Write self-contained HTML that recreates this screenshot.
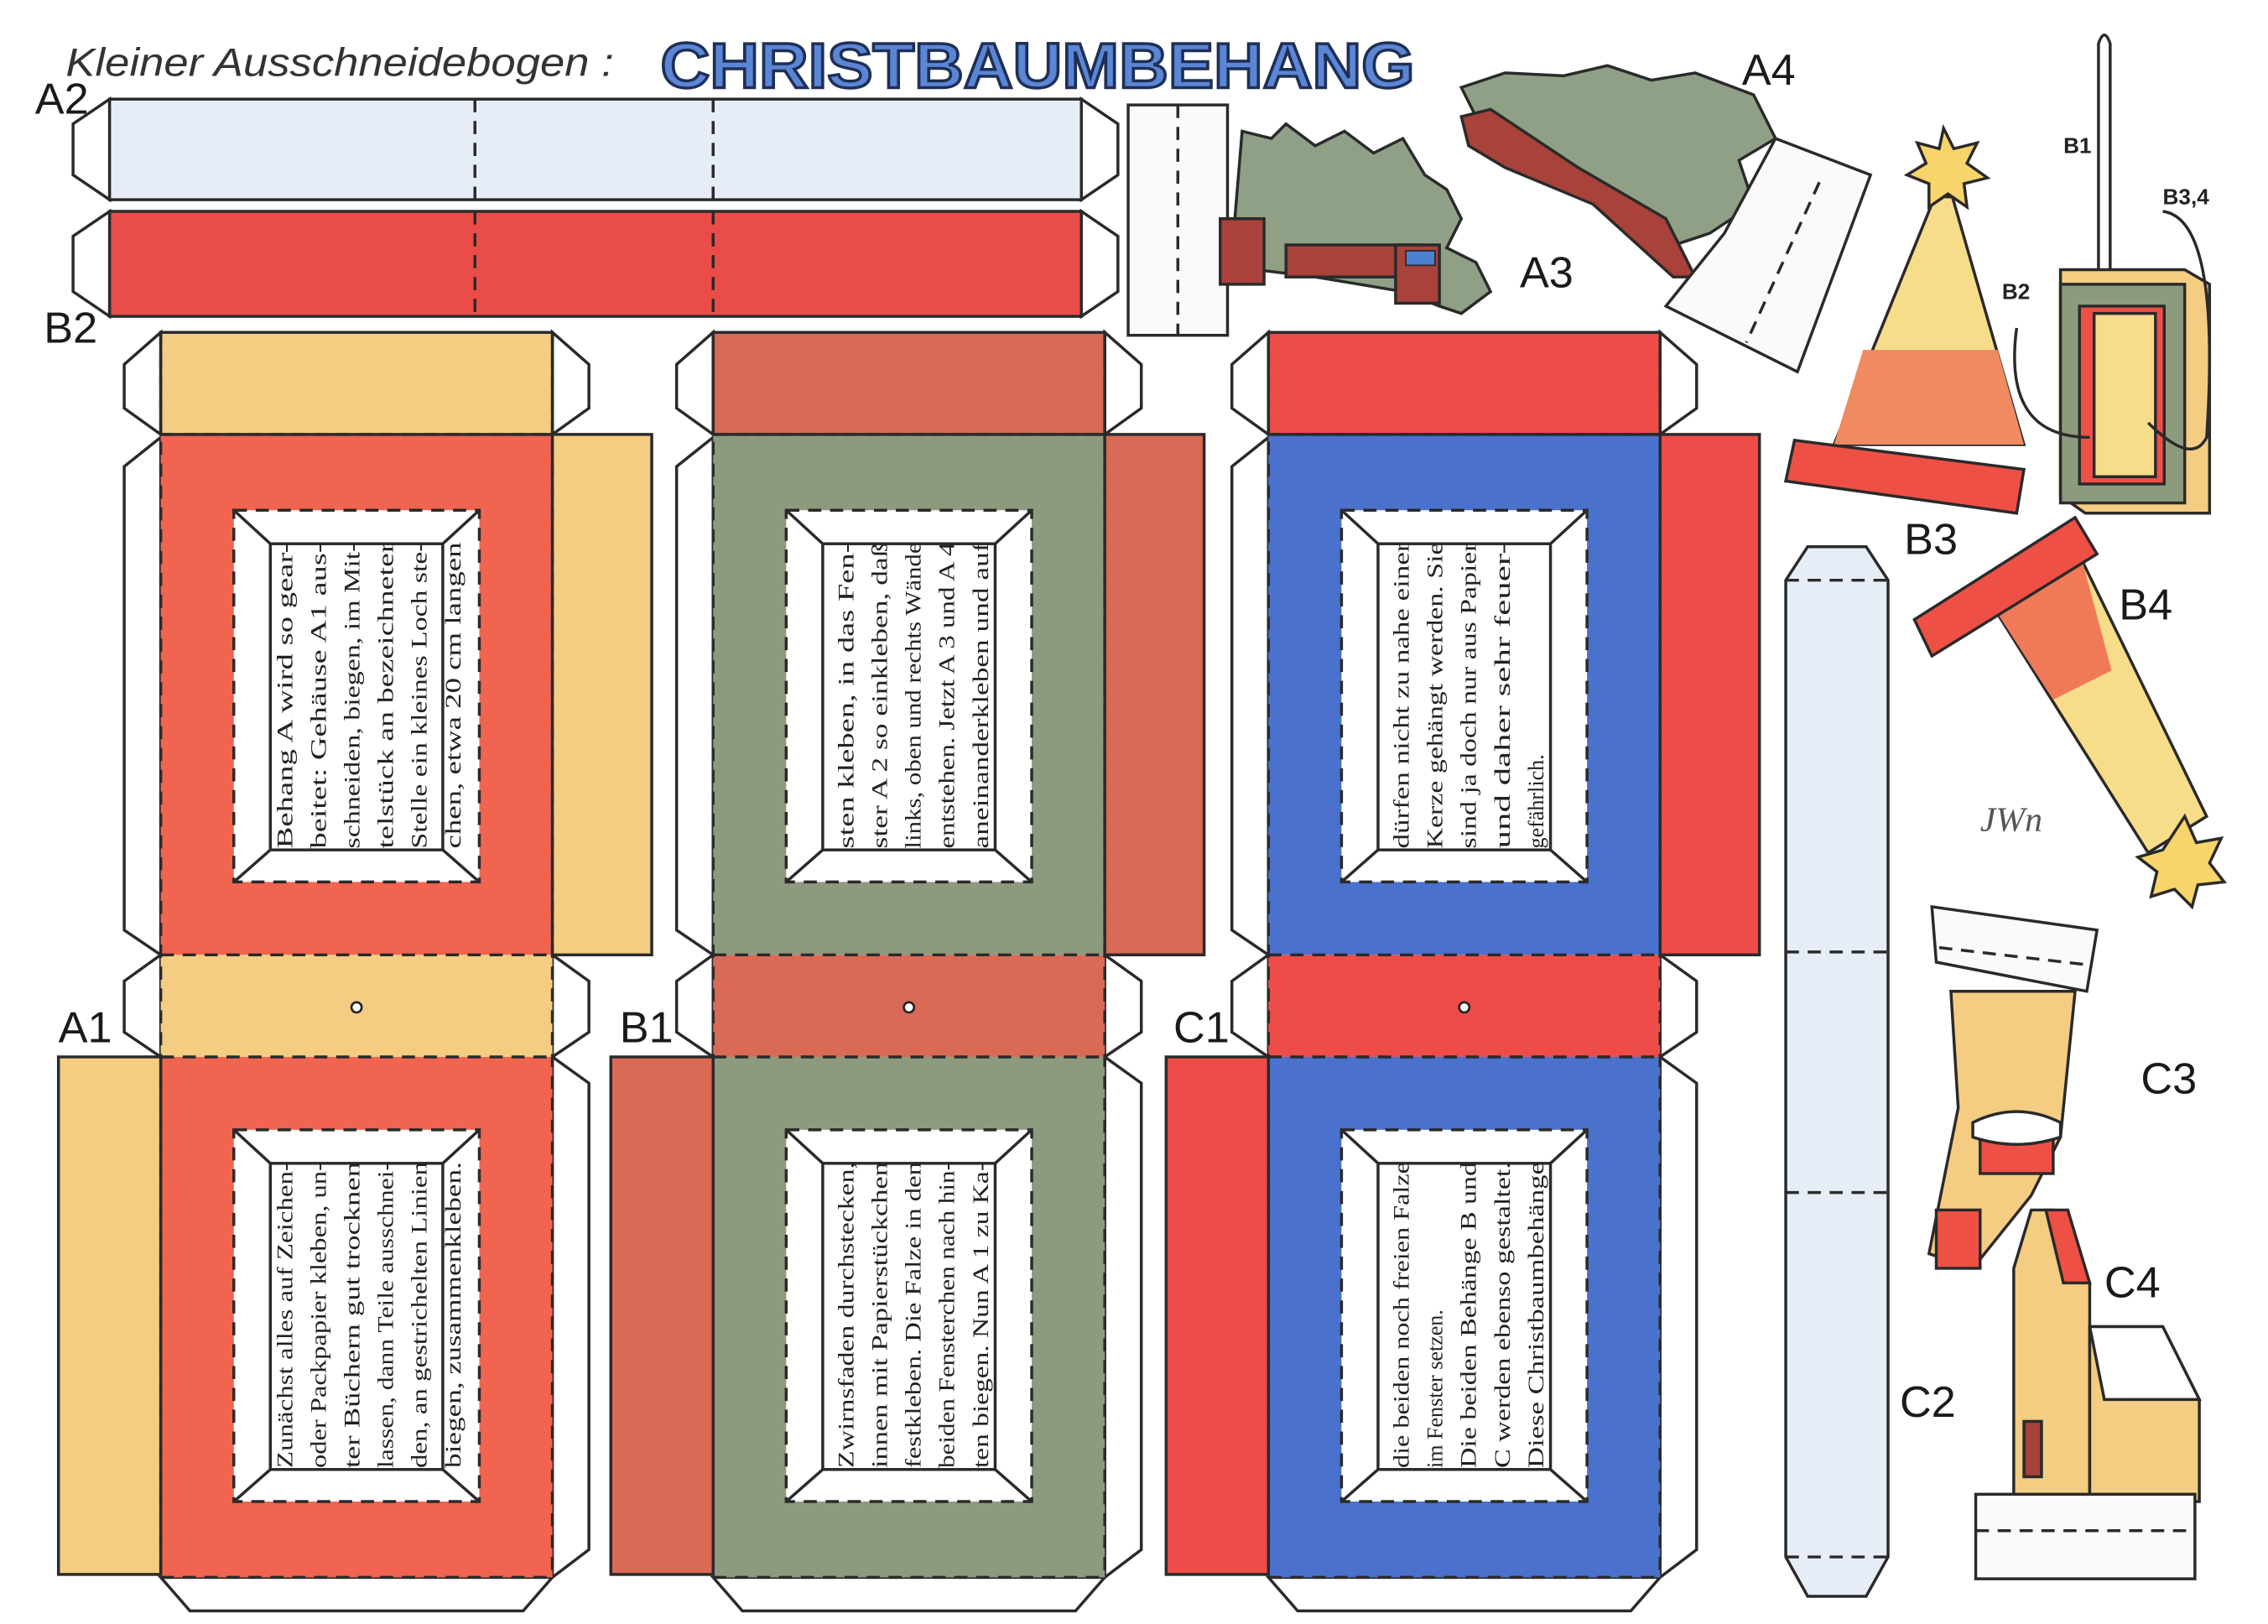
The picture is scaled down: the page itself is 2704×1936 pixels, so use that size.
<!DOCTYPE html>
<html><head><meta charset="utf-8">
<style>
html,body{margin:0;padding:0;background:#fff;}
svg{display:block;}
.t{font-family:"Liberation Serif",serif;font-size:15px;fill:#222;}
.lbl{font-family:"Liberation Sans",sans-serif;font-size:30px;fill:#1a1a1a;}
</style></head>
<body>
<svg width="2704" height="1936" viewBox="0 0 1552 1114" preserveAspectRatio="none" xmlns="http://www.w3.org/2000/svg">
<defs>
<g id="col">
  <g fill="#fff" stroke="#2a2a2a" stroke-width="2">
    <polygon points="0,0 -25,22 -25,52 0,70"/>
    <polygon points="268,0 293,22 293,52 268,70"/>
    <polygon points="0,72 -25,92 -25,410 0,427"/>
    <polygon points="0,427 -25,445 -25,480 0,497"/>
    <polygon points="268,427 293,445 293,480 268,497"/>
    <polygon points="268,497 293,515 293,835 268,854"/>
    <polygon points="0,854 20,877 248,877 268,854"/>
  </g>
  <rect x="0" y="0" width="268" height="70" fill="var(--top)"/>
  <rect x="0" y="70" width="268" height="357" fill="var(--frame)"/>
  <rect x="0" y="427" width="268" height="70" fill="var(--top)"/>
  <rect x="0" y="497" width="268" height="357" fill="var(--frame)"/>
  <rect x="268" y="70" width="68" height="357" fill="var(--side)" stroke="#2a2a2a" stroke-width="2"/>
  <rect x="-70" y="497" width="70" height="355" fill="var(--side)" stroke="#2a2a2a" stroke-width="2"/>
  <rect x="0" y="0" width="268" height="70" fill="none" stroke="#2a2a2a" stroke-width="2"/>
  <g stroke="#2a2a2a" stroke-width="2" stroke-dasharray="9,6" fill="none">
    <line x1="0" y1="0" x2="0" y2="854"/>
    <line x1="268" y1="0" x2="268" y2="854"/>
    <line x1="0" y1="70" x2="268" y2="70"/>
    <line x1="0" y1="427" x2="268" y2="427"/>
    <line x1="0" y1="497" x2="268" y2="497"/>
    <line x1="0" y1="854" x2="268" y2="854"/>
  </g>
  <circle cx="134" cy="463" r="3.5" fill="#fff" stroke="#222" stroke-width="1.5"/>
  <g fill="#fff" stroke="#2a2a2a" stroke-width="2">
    <rect x="50" y="122" width="168" height="255" stroke-dasharray="9,6"/>
    <rect x="75" y="145" width="118" height="210"/>
    <line x1="50" y1="122" x2="75" y2="145"/><line x1="218" y1="122" x2="193" y2="145"/>
    <line x1="50" y1="377" x2="75" y2="355"/><line x1="218" y1="377" x2="193" y2="355"/>
    <rect x="50" y="547" width="168" height="255" stroke-dasharray="9,6"/>
    <rect x="75" y="570" width="118" height="210"/>
    <line x1="50" y1="547" x2="75" y2="570"/><line x1="218" y1="547" x2="193" y2="570"/>
    <line x1="50" y1="802" x2="75" y2="780"/><line x1="218" y1="802" x2="193" y2="780"/>
  </g>
</g>
</defs>

<text x="45" y="52" font-family="Liberation Sans,sans-serif" font-style="italic" font-size="27" fill="#333" textLength="375" lengthAdjust="spacingAndGlyphs">Kleiner Ausschneidebogen :</text>
<text x="452" y="60" font-family="Liberation Sans,sans-serif" font-weight="bold" font-size="44" fill="#5b86d6" stroke="#1f2f55" stroke-width="2" textLength="516" lengthAdjust="spacingAndGlyphs">CHRISTBAUMBEHANG</text>

<g stroke="#2a2a2a" stroke-width="2">
  <polygon points="75,68 50,85 50,120 75,137" fill="#fff"/>
  <polygon points="740,68 765,85 765,120 740,137" fill="#fff"/>
  <rect x="75" y="68" width="665" height="69" fill="#e6edf6"/>
  <polygon points="75,145 50,162 50,200 75,217" fill="#fff"/>
  <polygon points="740,145 765,162 765,200 740,217" fill="#fff"/>
  <rect x="75" y="145" width="665" height="72" fill="#ea4d48"/>
  <g stroke-dasharray="9,6" fill="none">
    <line x1="325" y1="68" x2="325" y2="137"/><line x1="488" y1="68" x2="488" y2="137"/>
    <line x1="325" y1="145" x2="325" y2="217"/><line x1="488" y1="145" x2="488" y2="217"/>
  </g>
</g>
<text class="lbl" x="24" y="78" font-size="24">A2</text>
<text class="lbl" x="30" y="235" font-size="28">B2</text>

<use href="#col" x="110" y="228" style="--top:#f4cd82;--frame:#f06450;--side:#f4cd82"/>
<use href="#col" x="488" y="228" style="--top:#d96a55;--frame:#8c9b7e;--side:#d96a55"/>
<use href="#col" x="868" y="228" style="--top:#ee4c48;--frame:#4a72cc;--side:#ee4c48"/>

<text class="lbl" x="40" y="715" font-size="34">A1</text>
<text class="lbl" x="424" y="715" font-size="34">B1</text>
<text class="lbl" x="803" y="715" font-size="34">C1</text>

<g class="t" transform="translate(244,477) rotate(-90)">
  <text x="-105" y="-44" textLength="210" lengthAdjust="spacingAndGlyphs">Behang A wird so gear-</text>
  <text x="-105" y="-21" textLength="210" lengthAdjust="spacingAndGlyphs">beitet: Gehäuse A1 aus-</text>
  <text x="-105" y="2" textLength="210" lengthAdjust="spacingAndGlyphs">schneiden, biegen, im Mit-</text>
  <text x="-105" y="25" textLength="210" lengthAdjust="spacingAndGlyphs">telstück an bezeichneter</text>
  <text x="-105" y="48" textLength="210" lengthAdjust="spacingAndGlyphs">Stelle ein kleines Loch ste-</text>
  <text x="-105" y="71" textLength="210" lengthAdjust="spacingAndGlyphs">chen, etwa 20 cm langen</text>
</g>
<g class="t" transform="translate(244,902) rotate(-90)">
  <text x="-105" y="-44" textLength="210" lengthAdjust="spacingAndGlyphs">Zunächst alles auf Zeichen-</text>
  <text x="-105" y="-21" textLength="210" lengthAdjust="spacingAndGlyphs">oder Packpapier kleben, un-</text>
  <text x="-105" y="2" textLength="210" lengthAdjust="spacingAndGlyphs">ter Büchern gut trocknen</text>
  <text x="-105" y="25" textLength="210" lengthAdjust="spacingAndGlyphs">lassen, dann Teile ausschnei-</text>
  <text x="-105" y="48" textLength="210" lengthAdjust="spacingAndGlyphs">den, an gestrichelten Linien</text>
  <text x="-105" y="71" textLength="210" lengthAdjust="spacingAndGlyphs">biegen, zusammenkleben.</text>
</g>
<g class="t" transform="translate(622,477) rotate(-90)">
  <text x="-105" y="-38" textLength="210" lengthAdjust="spacingAndGlyphs">sten kleben, in das Fen-</text>
  <text x="-105" y="-15" textLength="210" lengthAdjust="spacingAndGlyphs">ster A 2 so einkleben, daß</text>
  <text x="-105" y="8" textLength="210" lengthAdjust="spacingAndGlyphs">links, oben und rechts Wände</text>
  <text x="-105" y="31" textLength="210" lengthAdjust="spacingAndGlyphs">entstehen. Jetzt A 3 und A 4</text>
  <text x="-105" y="54" textLength="210" lengthAdjust="spacingAndGlyphs">aneinanderkleben und auf</text>
</g>
<g class="t" transform="translate(622,902) rotate(-90)">
  <text x="-105" y="-38" textLength="210" lengthAdjust="spacingAndGlyphs">Zwirnsfaden durchstecken,</text>
  <text x="-105" y="-15" textLength="210" lengthAdjust="spacingAndGlyphs">innen mit Papierstückchen</text>
  <text x="-105" y="8" textLength="210" lengthAdjust="spacingAndGlyphs">festkleben. Die Falze in den</text>
  <text x="-105" y="31" textLength="210" lengthAdjust="spacingAndGlyphs">beiden Fensterchen nach hin-</text>
  <text x="-105" y="54" textLength="210" lengthAdjust="spacingAndGlyphs">ten biegen. Nun A 1 zu Ka-</text>
</g>
<g class="t" transform="translate(1002,477) rotate(-90)">
  <text x="-105" y="-38" textLength="210" lengthAdjust="spacingAndGlyphs">dürfen nicht zu nahe einer</text>
  <text x="-105" y="-15" textLength="210" lengthAdjust="spacingAndGlyphs">Kerze gehängt werden. Sie</text>
  <text x="-105" y="8" textLength="210" lengthAdjust="spacingAndGlyphs">sind ja doch nur aus Papier</text>
  <text x="-105" y="31" textLength="210" lengthAdjust="spacingAndGlyphs">und daher sehr feuer-</text>
  <text x="-105" y="54">gefährlich.</text>
</g>
<g class="t" transform="translate(1002,902) rotate(-90)">
  <text x="-105" y="-38" textLength="210" lengthAdjust="spacingAndGlyphs">die beiden noch freien Falze</text>
  <text x="-105" y="-15">im Fenster setzen.</text>
  <text x="-105" y="8" textLength="210" lengthAdjust="spacingAndGlyphs">Die beiden Behänge B und</text>
  <text x="-105" y="31" textLength="210" lengthAdjust="spacingAndGlyphs">C werden ebenso gestaltet.</text>
  <text x="-105" y="54" textLength="210" lengthAdjust="spacingAndGlyphs">Diese Christbaumbehänge</text>
</g>

<g stroke="#2a2a2a" stroke-width="2">
  <polygon points="1222,398 1237,375 1277,375 1292,398 1292,1068 1277,1095 1237,1095 1222,1068" fill="#e6edf6"/>
  <g stroke-dasharray="9,6"><line x1="1222" y1="398" x2="1292" y2="398"/><line x1="1222" y1="653" x2="1292" y2="653"/><line x1="1222" y1="818" x2="1292" y2="818"/><line x1="1222" y1="1068" x2="1292" y2="1068"/></g>
</g>
<text class="lbl" x="1300" y="972" font-size="32">C2</text>

<g stroke="#2a2a2a" stroke-width="2">
  <rect x="772" y="72" width="68" height="158" fill="#fafafa"/>
  <line x1="806" y1="72" x2="806" y2="230" stroke-dasharray="9,6"/>
  <path d="M850,90 L870,95 880,85 900,100 920,90 940,105 960,95 975,120 990,130 1000,150 990,170 1010,180 1020,200 1000,215 985,210 960,200 900,190 860,185 845,150 Z" fill="#8fa087"/>
  <rect x="835" y="150" width="30" height="45" fill="#a8423a"/>
  <rect x="880" y="168" width="90" height="22" fill="#a8423a"/>
  <rect x="955" y="168" width="30" height="40" fill="#a8423a"/>
  <rect x="962" y="172" width="20" height="10" fill="#4d7fd0" stroke-width="1"/>
</g>
<text class="lbl" x="1040" y="197" font-size="30">A3</text>
<g stroke="#2a2a2a" stroke-width="2">
  <path d="M1000,60 L1030,50 1070,52 1100,45 1130,55 1160,50 1200,65 1215,95 1190,110 1200,140 1170,160 1140,170 1100,140 1060,110 1020,100 Z" fill="#8fa087"/>
  <path d="M1000,80 L1020,75 1080,115 1140,150 1160,190 1145,190 1090,140 1030,115 1005,100 Z" fill="#a8423a"/>
  <polygon points="1215,95 1280,120 1230,255 1140,210 1180,160" fill="#fafafa"/>
  <line x1="1245" y1="125" x2="1195" y2="235" stroke-dasharray="9,6"/>
</g>
<text class="lbl" x="1192" y="58" font-size="30">A4</text>

<g stroke="#2a2a2a" stroke-width="2">
  <polygon points="1324,135 1336,135 1385,305 1255,305" fill="#f7dd8a"/>
  <polygon points="1275,240 1367,240 1385,305 1255,305" fill="#f08a60" stroke="none"/>
  <polygon points="1330,88 1337,102 1353,98 1346,112 1360,122 1344,126 1346,142 1333,133 1320,142 1320,126 1305,120 1318,112 1312,98 1327,102" fill="#f7d56a"/>
  <polygon points="1228,302 1385,322 1380,352 1222,330" fill="#ef5046"/>
</g>
<text class="lbl" x="1303" y="380" font-size="32">B3</text>
<g stroke="#2a2a2a" stroke-width="2">
  <polygon points="1360,410 1425,385 1510,560 1470,585" fill="#f7dd8a"/>
  <polygon points="1360,410 1425,385 1445,460 1405,480" fill="#f07a58" stroke="none"/>
  <polygon points="1310,425 1420,355 1435,380 1322,450" fill="#ef5046"/>
  <polygon points="1495,560 1503,578 1520,575 1512,592 1522,605 1504,607 1500,622 1488,610 1472,615 1476,598 1463,588 1480,583" fill="#f7d56a"/>
</g>
<text class="lbl" x="1450" y="425" font-size="32">B4</text>
<text x="1355" y="570" font-family="Liberation Serif,serif" font-style="italic" font-size="24" fill="#555">JWn</text>

<g stroke="#2a2a2a" stroke-width="2" fill="none">
  <path d="M1436,185 L1436,30 Q1440,18 1444,30 L1444,185"/>
</g>
<g stroke="#2a2a2a" stroke-width="2">
  <polygon points="1410,185 1495,185 1512,195 1512,352 1427,352 1410,340" fill="#f4cd82"/>
  <rect x="1410" y="195" width="85" height="150" fill="#8c9b7e"/>
  <rect x="1423" y="210" width="58" height="122" fill="#ef5046"/>
  <rect x="1433" y="215" width="42" height="112" fill="#f7dd8a"/>
  <path d="M1380,225 Q1370,300 1430,300 M1480,145 Q1520,150 1510,300 Q1500,320 1470,290" fill="none"/>
</g>
<text x="1412" y="105" font-family="Liberation Sans,sans-serif" font-size="15" font-weight="bold" fill="#222">B1</text>
<text x="1480" y="140" font-family="Liberation Sans,sans-serif" font-size="15" font-weight="bold" fill="#222">B3,4</text>
<text x="1370" y="205" font-family="Liberation Sans,sans-serif" font-size="15" font-weight="bold" fill="#222">B2</text>

<g stroke="#2a2a2a" stroke-width="2">
  <polygon points="1322,622 1435,638 1428,680 1325,660" fill="#fafafa"/>
  <line x1="1327" y1="650" x2="1430" y2="662" stroke-dasharray="9,6"/>
  <polygon points="1335,680 1420,680 1410,780 1390,820 1350,870 1320,860 1340,760" fill="#f4cd82"/>
  <rect x="1355" y="770" width="50" height="35" fill="#ef5046"/>
  <path d="M1350,770 Q1380,755 1410,770 L1410,780 Q1380,790 1350,780 Z" fill="#fff"/>
  <rect x="1325" y="830" width="30" height="40" fill="#ef5046"/>
</g>
<text class="lbl" x="1465" y="750" font-size="32">C3</text>
<g stroke="#2a2a2a" stroke-width="2">
  <polygon points="1390,830 1405,830 1430,880 1430,1030 1378,1030 1378,870" fill="#f4cd82"/>
  <polygon points="1400,830 1415,830 1430,880 1412,880" fill="#ef5046"/>
  <polygon points="1430,910 1480,910 1505,960 1505,1030 1430,1030" fill="#f4cd82"/>
  <path d="M1430,910 L1480,910 1505,960 1440,960 Z" fill="#fff"/>
  <rect x="1385" y="975" width="12" height="38" fill="#a8423a"/>
  <rect x="1352" y="1025" width="150" height="58" fill="#fafafa"/>
  <line x1="1352" y1="1050" x2="1502" y2="1050" stroke-dasharray="9,6"/>
</g>
<text class="lbl" x="1440" y="890" font-size="32">C4</text>
</svg>
</body></html>
